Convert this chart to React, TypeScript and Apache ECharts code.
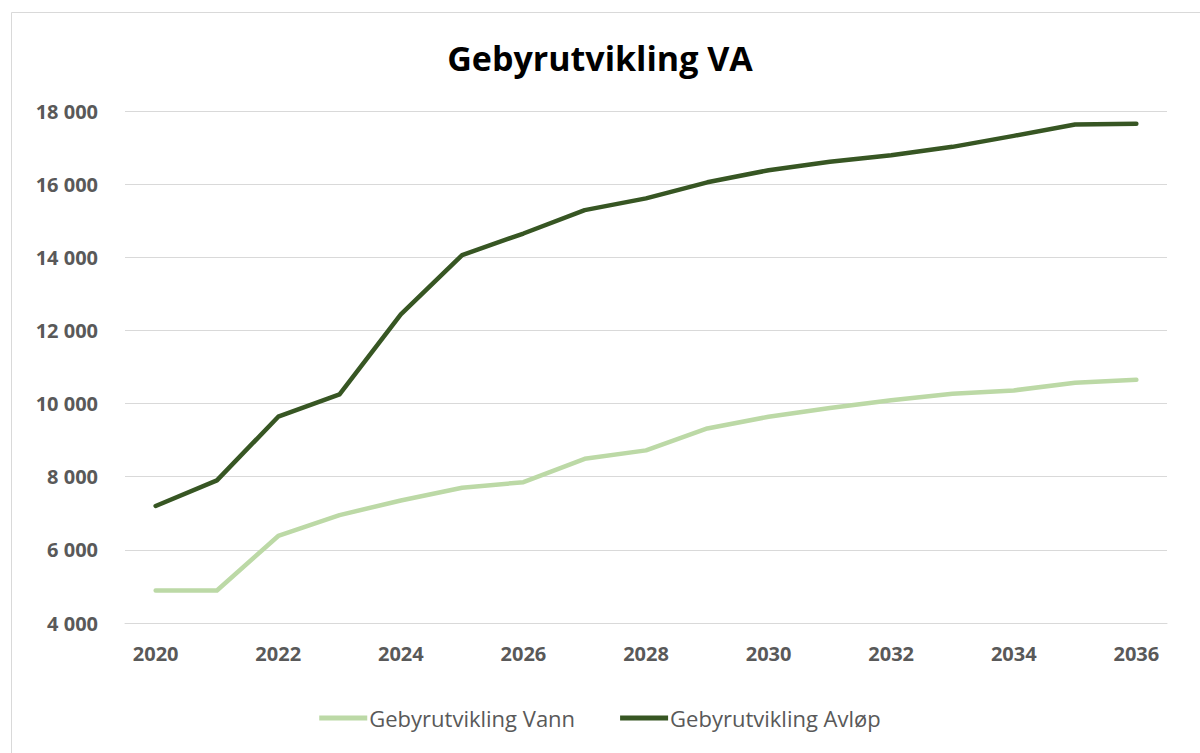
import React, { useEffect, useRef } from "react";
import * as echarts from "echarts";

const years = ["2020","2021","2022","2023","2024","2025","2026","2027","2028","2029","2030","2031","2032","2033","2034","2035","2036"];
const vann = [4890, 4890, 6380, 6950, 7350, 7700, 7850, 8490, 8720, 9320, 9640, 9880, 10090, 10270, 10360, 10570, 10650];
const avlop = [7200, 7900, 9640, 10250, 12440, 14060, 14650, 15290, 15610, 16050, 16380, 16610, 16790, 17020, 17320, 17630, 17650];
const seriesNames = ["Gebyrutvikling Vann", "Gebyrutvikling Avløp"];
const title = "Gebyrutvikling VA";

const fmt = (v: number) => String(v).replace(/\B(?=(\d{3})+(?!\d))/g, " ");

export default function App() {
  const ref = useRef<HTMLDivElement>(null);
  useEffect(() => {
    const chart = echarts.init(ref.current!, null, { renderer: "svg" });
    chart.setOption({
      animation: false,
      backgroundColor: "#ffffff",
      title: {
        text: title,
        left: "center",
        top: 36,
        textStyle: { fontFamily: "Open Sans", fontWeight: "bold", fontSize: 34, color: "#000000" },
      },
      graphic: [
        {
          type: "rect",
          shape: { x: 11.5, y: 12.5, width: 1300, height: 900 },
          style: { fill: "none", stroke: "#d9d9d9", lineWidth: 1 },
          silent: true,
        },
      ],
      legend: {
        bottom: 19,
        left: "center",
        itemWidth: 48,
        itemHeight: 5,
        itemGap: 45,
        icon: "rect",
        textStyle: { fontFamily: "Open Sans", fontSize: 22, color: "#595959", padding: [0, 0, 0, -3] },
        data: seriesNames,
      },
      grid: { left: 125, right: 33, top: 111, bottom: 130 },
      xAxis: {
        type: "category",
        data: years,
        boundaryGap: true,
        axisLine: { show: true, lineStyle: { color: "#d9d9d9", width: 1 } },
        axisTick: { show: false },
        axisLabel: {
          interval: 1,
          margin: 20,
          fontFamily: "Open Sans",
          fontWeight: "bold",
          fontSize: 20,
          color: "#595959",
        },
      },
      yAxis: {
        type: "value",
        min: 4000,
        max: 18000,
        interval: 2000,
        axisLine: { show: false },
        axisTick: { show: false },
        splitLine: { lineStyle: { color: "#d9d9d9", width: 1 } },
        axisLabel: {
          margin: 27,
          fontFamily: "Open Sans",
          fontWeight: "bold",
          fontSize: 20,
          color: "#595959",
          formatter: (v: number) => fmt(v),
        },
      },
      series: [
        {
          name: seriesNames[0],
          type: "line",
          data: vann,
          symbol: "none",
          color: "#bcd9a6",
          lineStyle: { width: 4.5, color: "#bcd9a6", cap: "round", join: "round" },
        },
        {
          name: seriesNames[1],
          type: "line",
          data: avlop,
          symbol: "none",
          color: "#375623",
          lineStyle: { width: 4.5, color: "#375623", cap: "round", join: "round" },
        },
      ],
    });
    return () => chart.dispose();
  }, []);
  return <div ref={ref} style={{ width: 1200, height: 753, position: "absolute", left: 0, top: 0 }} />;
}
